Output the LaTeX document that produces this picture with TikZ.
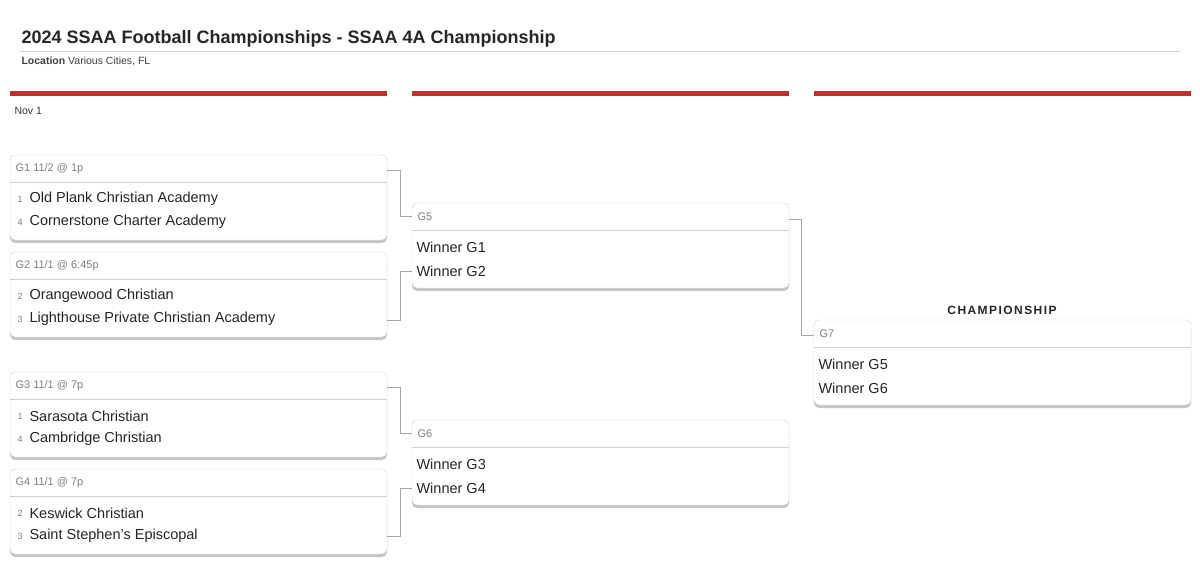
\documentclass[tikz,border=0pt]{standalone}
\usepackage{fontspec}
\setmainfont{Liberation Sans}
\usetikzlibrary{shadows,calc}
\definecolor{bred}{HTML}{C0302A}
\definecolor{lgray}{HTML}{D0D0D0}
\begin{document}
\begin{tikzpicture}[x=1pt,y=-1pt,
  box/.style={draw=lgray,fill=white,rounded corners=5pt,drop shadow={shadow xshift=0pt,shadow yshift=-3pt,opacity=0.45}},
  hdr/.style={anchor=west,text=gray,font=\fontsize{11}{13}\selectfont},
  team/.style={anchor=west,font=\fontsize{14.5}{17}\selectfont,text=black!85},
  seed/.style={anchor=west,font=\fontsize{9}{11}\selectfont,text=gray},
  con/.style={draw=gray!70,line width=0.6pt},
  bar/.style={draw=none,fill=bred}]
\useasboundingbox[fill=white] (0,0) rectangle (1200,570);
\node[anchor=base west,font=\bfseries\fontsize{18}{20}\selectfont,text=black!85] (title) at (18,43) {2024 SSAA Football Championships - SSAA 4A Championship};
\draw[lgray,line width=0.5pt] (20,51) -- (1180,51);
\node[anchor=base west,font=\fontsize{10.5}{12}\selectfont,text=black!75] (loc) at (18,64) {\textbf{Location} Various Cities, FL};
\fill[bar] (10,91) rectangle (387,96);
\fill[bar] (412,91) rectangle (789,96);
\fill[bar] (814,91) rectangle (1191,96);
\node[anchor=base west,font=\fontsize{10.5}{12}\selectfont,text=black!80] (nov) at (11,114) {Nov 1};
\node[font=\bfseries\fontsize{12}{14}\selectfont,text=black!85] (champ) at (1002,310) {\addfontfeature{LetterSpace=12}CHAMPIONSHIP};
% games
\foreach \n/\x/\y in {g1/10/155,g2/10/252,g3/10/372,g4/10/469,g5/412/203,g6/412/420,g7/814/320}{
  \path[box] (\x,\y) rectangle ++(377,85);
  \draw[lgray,line width=0.5pt] (\x,\y+27) -- ++(377,0);
  \coordinate (\n) at (\x,\y);
}
\node[hdr] (h1) at ($(g1)+(2,14)$) {G1 11/2 @ 1p};
\node[hdr] (h2) at ($(g2)+(2,14)$) {G2 11/1 @ 6:45p};
\node[hdr] (h3) at ($(g3)+(2,14)$) {G3 11/1 @ 7p};
\node[hdr] (h4) at ($(g4)+(2,14)$) {G4 11/1 @ 7p};
\node[hdr] (h5) at ($(g5)+(2,14)$) {G5};
\node[hdr] (h6) at ($(g6)+(2,14)$) {G6};
\node[hdr] (h7) at ($(g7)+(2,14)$) {G7};
\foreach \n/\a/\sa/\b/\sb in {g1/Old Plank Christian Academy/1/Cornerstone Charter Academy/4,
  g2/Orangewood Christian/2/Lighthouse Private Christian Academy/3,
  g3/Sarasota Christian/1/Cambridge Christian/4,
  g4/Keswick Christian/2/Saint Stephen's Episcopal/3}{
  \node[seed] (\n sa) at ($(\n)+(4,44)$) {\sa};
  \node[team] (\n ta) at ($(\n)+(16,44)$) {\a};
  \node[seed] (\n sb) at ($(\n)+(4,67)$) {\sb};
  \node[team] (\n tb) at ($(\n)+(16,67)$) {\b};
}
\foreach \n/\a/\b in {g5/Winner G1/Winner G2,g6/Winner G3/Winner G4,g7/Winner G5/Winner G6}{
  \node[team] (\n ta) at ($(\n)+(1,44)$) {\a};
  \node[team] (\n tb) at ($(\n)+(1,68)$) {\b};
}
% connectors
\draw[con] ($(g1)+(377,15)$) -| (400,216) -- ($(g5)+(0,13)$);
\draw[con] ($(g2)+(377,68)$) -| (400,271) -- ($(g5)+(0,68)$);
\draw[con] ($(g3)+(377,15)$) -| (400,433) -- ($(g6)+(0,13)$);
\draw[con] ($(g4)+(377,67)$) -| (400,488) -- ($(g6)+(0,68)$);
\draw[con] ($(g5)+(377,16)$) -| (801,335) -- ($(g7)+(0,15)$);
\end{tikzpicture}
\end{document}
